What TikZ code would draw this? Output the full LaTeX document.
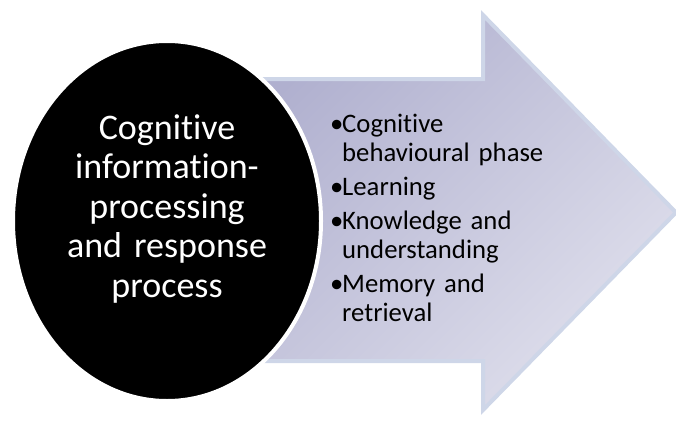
\documentclass[tikz,border=0pt]{standalone}
\usepackage{fontspec}
\setmainfont{Carlito}[Ligatures={NoCommon,NoContextual}]
\usetikzlibrary{shapes.geometric}
\definecolor{arrowdark}{RGB}{176,176,207}
\definecolor{arrowlight}{RGB}{223,223,236}
\definecolor{arrowedge}{RGB}{206,214,232}
\begin{document}
\begin{tikzpicture}[x=1pt,y=-1pt,
  arrowshape/.style={draw=arrowedge, line width=4pt, line join=miter,
    top color=arrowdark, bottom color=arrowlight, shading angle=45},
  blackoval/.style={ellipse, fill=black, draw=white, line width=4pt,
    minimum width=308pt, minimum height=360pt, inner sep=0pt},
  ovaltext/.style={text=white, font=\fontsize{36}{39.5}\selectfont,
    text width=280pt, align=center, anchor=base, inner sep=0pt},
  listtext/.style={text=black, font=\fontsize{26.7}{29.4}\selectfont,
    text width=240pt, align=left, anchor=base west, inner sep=0pt}]
\useasboundingbox (0,0) rectangle (676,420);
% big arrow
\coordinate (bodyTL) at (230,79);
\coordinate (notchT) at (483,79);
\coordinate (headT) at (483,15);
\coordinate (tip) at (676,212.5);
\coordinate (headB) at (483,410);
\coordinate (notchB) at (483,361);
\coordinate (bodyBL) at (230,361);
\path[arrowshape] (bodyTL) -- (notchT) -- (headT) -- (tip) -- (headB) -- (notchB) -- (bodyBL) -- cycle;
% black oval
\node[blackoval] (oval) at (167,221) {};
\node[ovaltext] (ovaltxt) at (167,139) {Cognitive\\ information-\\ processing\\ and response\\ process};
% bullet list
\node[listtext] (list) at (330,132) {%
\makebox[12pt][l]{\textbullet}Cognitive\\
\hspace*{12pt}behavioural phase\\[4.5pt]
\makebox[12pt][l]{\textbullet}Learning\\[4.5pt]
\makebox[12pt][l]{\textbullet}Knowledge and\\
\hspace*{12pt}understanding\\[4.5pt]
\makebox[12pt][l]{\textbullet}Memory and\\
\hspace*{12pt}retrieval};
\end{tikzpicture}
\end{document}
